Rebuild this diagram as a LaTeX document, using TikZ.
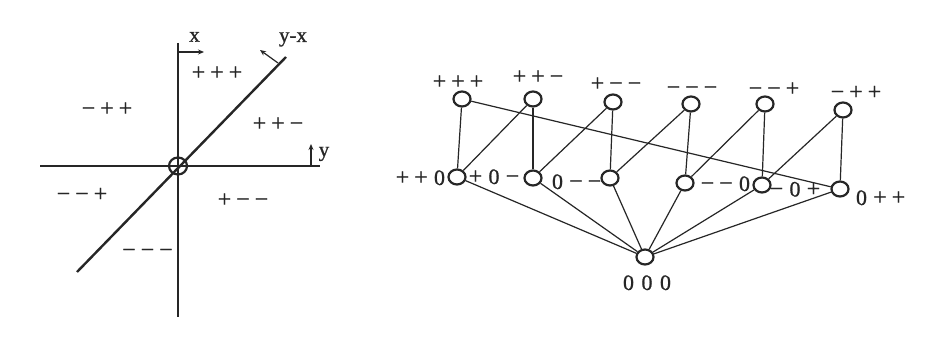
\documentclass[tikz,border=0pt]{standalone}
\usepackage{fontspec}
\setmainfont{Liberation Serif}
\newfontfamily\labfont{Liberation Serif}[FakeBold=0.9]
\usetikzlibrary{shapes.geometric,arrows.meta}
\newcommand{\sy}[1]{\makebox[18.5pt]{#1}}
\newcommand{\tri}[3]{\sy{#1}\sy{#2}\sy{#3}}
\newcommand{\pl}{{\fontsize{24}{24}\selectfont +}}
\newcommand{\mn}{{\fontsize{24}{24}\selectfont −}}
\definecolor{ink}{HTML}{262626}
\begin{document}
\begin{tikzpicture}[x=1pt,y=-1pt,
  vert/.style={draw=ink, ellipse, minimum width=17pt, minimum height=15pt, inner sep=0pt, line width=2.2pt, fill=white},
  lab/.style={inner sep=0pt, anchor=base, text=ink, font=\labfont\fontsize{22}{22}\selectfont},
  axlab/.style={inner sep=0pt, anchor=base, text=ink, font=\labfont\fontsize{21}{21}\selectfont},
  edge/.style={draw=ink, line width=1.2pt},
  axis/.style={draw=ink, line width=1.3pt},
  diag/.style={draw=ink, line width=2.4pt},
  arr/.style={draw=ink, line width=1.2pt, -{Stealth[length=6pt,width=5pt]}}
]
\useasboundingbox (0,0) rectangle (938,339);
\fill[white] (0,0) rectangle (938,339);

% ---------- left: plane ----------
\coordinate (vt) at (178,43);
\coordinate (vb) at (178,317);
\coordinate (hl) at (40,166);
\coordinate (hr) at (320,166);
\coordinate (dl) at (77,272);
\coordinate (dr) at (286,57);
\draw[axis] (vt) -- (vb);
\draw[axis] (hl) -- (hr);
\draw[diag] (dl) -- (dr);
\node[draw=ink, ellipse, minimum width=18pt, minimum height=17pt, inner sep=0pt, line width=2.2pt] (o) at (178,166) {};

\coordinate (xa) at (178,52);
\coordinate (xb) at (204,52);
\draw[arr] (xa) -- (xb);
\coordinate (ya) at (311,166);
\coordinate (yb) at (311,144);
\draw[arr] (ya) -- (yb);
\coordinate (da) at (278,63);
\coordinate (db) at (260,50);
\draw[arr] (da) -- (db);

\node[axlab] (lx) at (194.5,41.7) {x};
\node[axlab] (lyx) at (293,42) {y-x};
\node[axlab] (ly) at (324,156.5) {y};

\node[lab] (qPPP) at (217,80) {\tri{\pl}{\pl}{\pl}};
\node[lab] (qMPP) at (107,116) {\tri{\mn}{\pl}{\pl}};
\node[lab] (qPPM) at (278,131) {\tri{\pl}{\pl}{\mn}};
\node[lab] (qMMP) at (82,201.5) {\tri{\mn}{\mn}{\pl}};
\node[lab] (qPMM) at (243,207) {\tri{\pl}{\mn}{\mn}};
\node[lab] (qMMM) at (147.5,257.5) {\tri{\mn}{\mn}{\mn}};

% ---------- right: lattice ----------
\node[vert] (tPPP) at (462,99) {};
\node[vert] (tPPM) at (533,99) {};
\node[vert] (tPMM) at (613,102) {};
\node[vert] (tMMM) at (691,104) {};
\node[vert] (tMMP) at (765,104) {};
\node[vert] (tMPP) at (843,110) {};

\node[vert] (mPPZ) at (457,177) {};
\node[vert] (mPZM) at (533,178) {};
\node[vert] (mZMM) at (610,178) {};
\node[vert] (mMMZ) at (685,183) {};
\node[vert] (mMZP) at (762,185) {};
\node[vert] (mZPP) at (840,189) {};

\node[vert] (bZZZ) at (645,257) {};

\draw[edge] (tPPP) -- (mPPZ);
\draw[edge] (tPPP) -- (mZPP);
\draw[edge] (tPPM) -- (mPPZ);
\draw[edge] (tPPM) -- (mPZM);
\draw[edge] (tPMM) -- (mPZM);
\draw[edge] (tPMM) -- (mZMM);
\draw[edge] (tMMM) -- (mZMM);
\draw[edge] (tMMM) -- (mMMZ);
\draw[edge] (tMMP) -- (mMMZ);
\draw[edge] (tMMP) -- (mMZP);
\draw[edge] (tMPP) -- (mMZP);
\draw[edge] (tMPP) -- (mZPP);
\draw[edge] (mPPZ) -- (bZZZ);
\draw[edge] (mPZM) -- (bZZZ);
\draw[edge] (mZMM) -- (bZZZ);
\draw[edge] (mMMZ) -- (bZZZ);
\draw[edge] (mMZP) -- (bZZZ);
\draw[edge] (mZPP) -- (bZZZ);

\node[lab] (lPPP) at (458,89) {\tri{\pl}{\pl}{\pl}};
\node[lab] (lPPM) at (538,84) {\tri{\pl}{\pl}{\mn}};
\node[lab] (lPMM) at (616,91) {\tri{\pl}{\mn}{\mn}};
\node[lab] (lMMM) at (692,95) {\tri{\mn}{\mn}{\mn}};
\node[lab] (lMMP) at (774,96) {\tri{\mn}{\mn}{\pl}};
\node[lab] (lMPP) at (856,99.5) {\tri{\mn}{\pl}{\pl}};

\node[lab] (lPPZ) at (421,185) {\tri{\pl}{\pl}{0}};
\node[lab] (lPZM) at (494,184) {\tri{\pl}{0}{\mn}};
\node[lab] (lZMM) at (576,189) {\tri{0}{\mn}{\mn}};
\node[lab] (lMMZ) at (726,191) {\tri{\mn}{\mn}{0}};
\node[lab] (lMZP) at (795,196.5) {\tri{\mn}{0}{\pl}};
\node[lab] (lZPP) at (880,205) {\tri{0}{\pl}{\pl}};
\node[lab] (lZZZ) at (647,290) {\tri{0}{0}{0}};
\end{tikzpicture}
\end{document}
